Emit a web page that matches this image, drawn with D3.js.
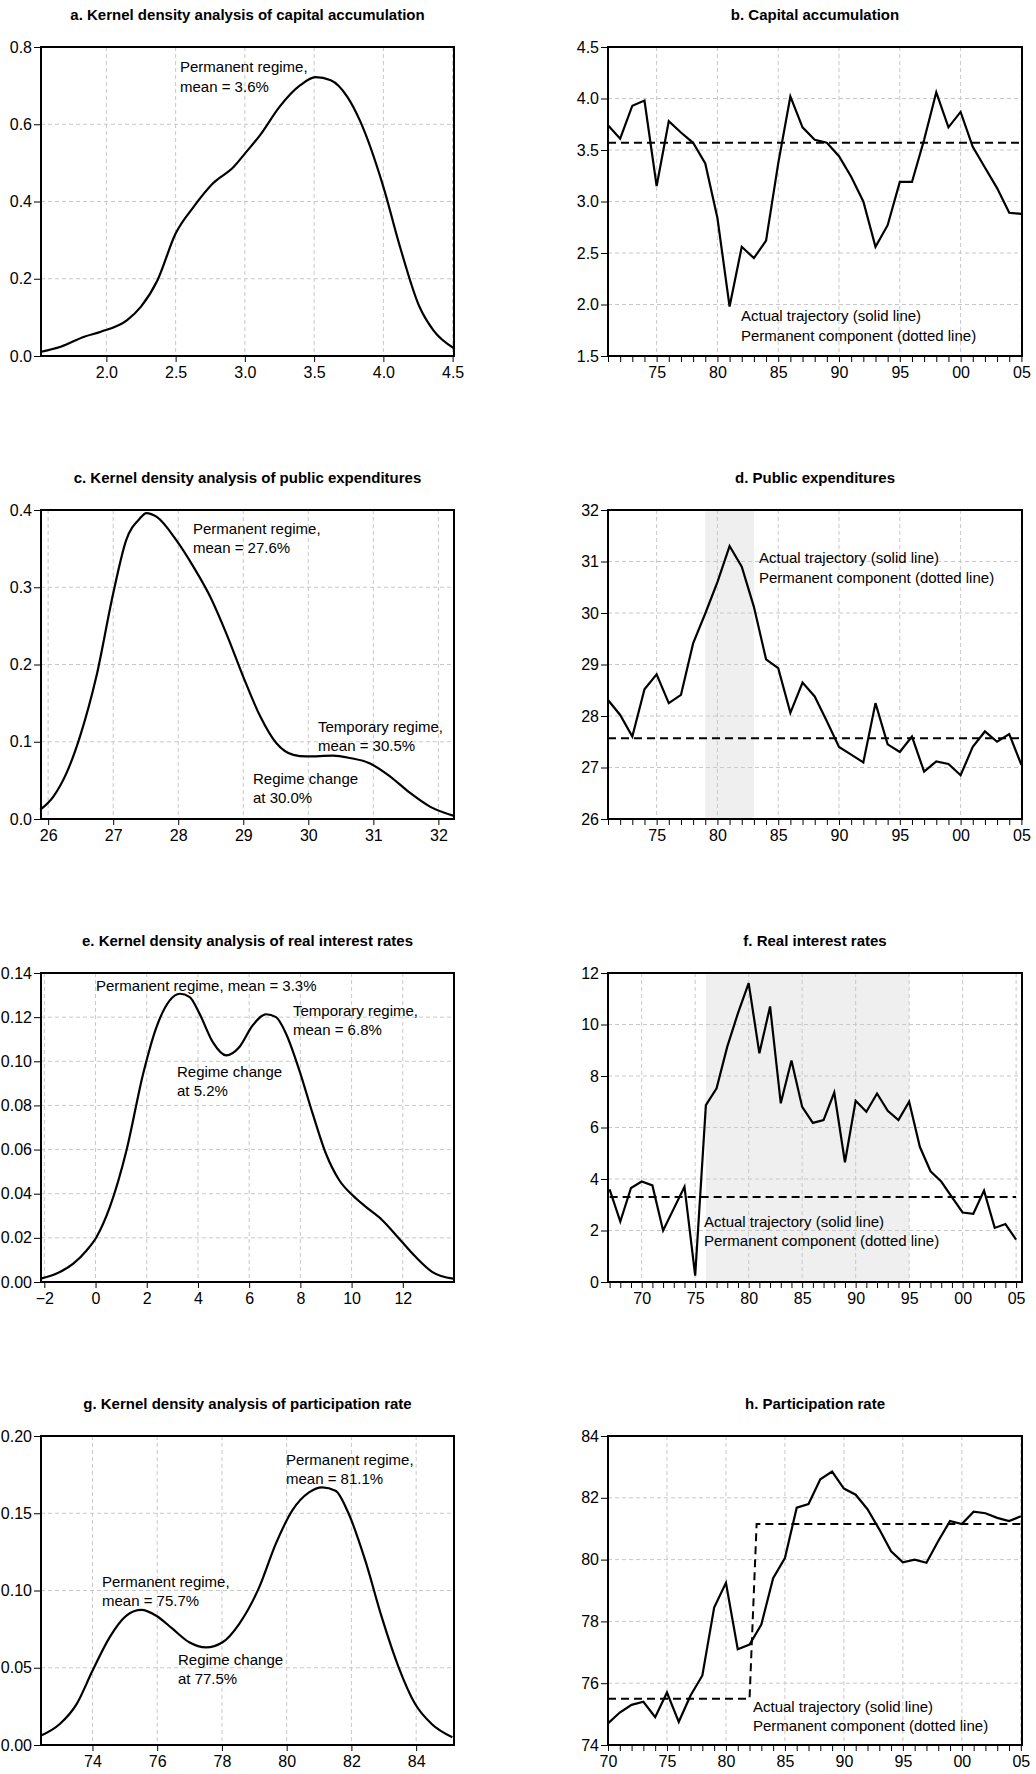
<!DOCTYPE html>
<html><head><meta charset="utf-8">
<script src="https://cdn.jsdelivr.net/npm/d3@7"></script>
<style>body{margin:0;background:#fff}svg{font-family:"Liberation Sans",Arial,sans-serif}</style>
</head><body><svg id="c" width="1036" height="1774"></svg>
<script>
// ---- Density data ----
const densA_x=[1.53,1.67,1.84,1.96,2.15,2.25,2.37,2.5,2.63,2.77,2.92,3.0,3.11,3.25,3.4,3.51,3.62,3.74,3.83,4.0,4.12,4.26,4.36,4.51];
const densA_y=[0.011,0.024,0.05,0.063,0.093,0.128,0.197,0.317,0.386,0.447,0.49,0.524,0.572,0.645,0.701,0.722,0.714,0.671,0.61,0.438,0.283,0.128,0.067,0.02];
const densC_x=[25.88,26.08,26.28,26.49,26.74,27.0,27.2,27.41,27.51,27.67,27.97,28.23,28.49,28.74,29.0,29.26,29.51,29.77,29.97,30.38,30.64,30.95,31.26,31.56,31.87,32.24];
const densC_y=[0.012,0.029,0.059,0.107,0.184,0.292,0.361,0.389,0.396,0.391,0.361,0.327,0.288,0.24,0.184,0.133,0.098,0.083,0.081,0.082,0.079,0.072,0.055,0.034,0.016,0.004];
const densE_x=[-2.14,-1.52,-0.87,-0.35,0.04,0.56,1.21,1.86,2.38,2.9,3.29,3.68,4.06,4.58,5.1,5.62,6.14,6.66,7.05,7.44,7.96,8.48,9.0,9.52,10.04,10.56,11.21,11.86,12.51,13.16,13.96];
const densE_y=[0.0015,0.0038,0.0083,0.0143,0.0204,0.034,0.0597,0.0944,0.1155,0.1276,0.1306,0.1291,0.1216,0.1087,0.1027,0.1065,0.1163,0.1213,0.12,0.1125,0.0959,0.0763,0.0581,0.0461,0.0393,0.034,0.0279,0.0196,0.0113,0.0045,0.0015];
const densG_x=[72.4,72.99,73.51,74.0,74.53,75.05,75.51,75.97,76.48,76.99,77.51,78.02,78.53,79.15,79.66,80.17,80.69,81.1,81.51,81.92,82.43,82.94,83.46,83.97,84.48,85.12];
const densG_y=[0.006,0.0136,0.0265,0.048,0.0697,0.0837,0.0874,0.0837,0.0751,0.0665,0.0632,0.0665,0.0783,0.102,0.13,0.1517,0.1635,0.1668,0.1646,0.1495,0.1193,0.0826,0.0503,0.0265,0.0136,0.005];
// ---- Time series data ----
const yearsB=d3.range(1971,2006);
const capital=[3.74,3.61,3.93,3.98,3.15,3.78,3.67,3.57,3.37,2.84,1.98,2.56,2.45,2.62,3.37,4.02,3.72,3.6,3.57,3.44,3.24,3.0,2.56,2.77,3.19,3.19,3.6,4.06,3.72,3.87,3.53,3.33,3.13,2.89,2.88];
const capitalPermX=[1971,2005];
const capitalPermY=[3.57,3.57];
const yearsD=d3.range(1971,2006);
const publicExp=[28.31,28.02,27.6,28.52,28.81,28.25,28.41,29.41,29.99,30.6,31.3,30.9,30.12,29.1,28.93,28.06,28.65,28.38,27.9,27.4,27.25,27.1,28.25,27.45,27.3,27.6,26.92,27.12,27.07,26.85,27.4,27.7,27.5,27.65,27.05];
const publicPermX=[1971,2005];
const publicPermY=[27.57,27.57];
const shadeD=[1979,1983];
const yearsF=d3.range(1967,2006);
const interest=[3.6,2.35,3.65,3.9,3.75,2.0,2.85,3.7,0.25,6.87,7.52,9.14,10.44,11.61,8.88,10.7,6.94,8.6,6.8,6.18,6.29,7.36,4.65,7.04,6.61,7.32,6.65,6.29,7.0,5.25,4.3,3.9,3.3,2.7,2.65,3.55,2.1,2.25,1.65];
const interestPermX=[1967,2005];
const interestPermY=[3.3,3.3];
const shadeF=[1976,1995];
const yearsH=d3.range(1970,2006);
const particip=[74.7,75.05,75.3,75.4,74.9,75.7,74.75,75.6,76.25,78.45,79.25,77.1,77.25,77.9,79.4,80.05,81.68,81.8,82.6,82.85,82.3,82.1,81.63,80.98,80.27,79.91,80.0,79.9,80.6,81.25,81.15,81.55,81.5,81.35,81.25,81.4];
const participPermX=[1970,1982,1982.6,2005];
const participPermY=[75.5,75.5,81.15,81.15];

const svg=d3.select("#c");
const colL=[41,454], colR=[608,1022];
const rowTop=[47,510,973,1436], H=309;

function frame(g,x0,x1,y0,title){
  g.append("text").attr("x",(x0+x1)/2).attr("y",y0-27).attr("text-anchor","middle")
   .attr("font-weight","bold").attr("font-size",15).text(title);
}
function grid(g,x,y,xt,yt,y0){
  const [X0,X1]=x.range(), Y1=y.range()[0];
  xt.forEach(v=>g.append("line").attr("x1",x(v)).attr("x2",x(v)).attr("y1",y0).attr("y2",Y1)
    .attr("stroke","#c8c8c8").attr("stroke-dasharray","4,3"));
  yt.forEach(v=>g.append("line").attr("x1",X0).attr("x2",X1).attr("y1",y(v)).attr("y2",y(v))
    .attr("stroke","#c8c8c8").attr("stroke-dasharray","4,3"));
}
function axes(g,x,y,xt,yt,xf,yf,minor,y0){
  const Y1=y.range()[0];
  g.append("g").attr("transform",`translate(0,${Y1})`)
   .call(d3.axisBottom(x).tickValues(xt).tickFormat(xf).tickSize(6).tickPadding(5))
   .call(a=>{a.select(".domain").remove();a.selectAll("text").attr("font-size",16).attr("fill","#000");});
  if(minor) g.append("g").attr("transform",`translate(0,${Y1})`)
   .call(d3.axisBottom(x).tickValues(minor).tickFormat("").tickSize(6))
   .call(a=>a.select(".domain").remove());
  g.append("g").attr("transform",`translate(${x.range()[0]},0)`)
   .call(d3.axisLeft(y).tickValues(yt).tickFormat(yf).tickSize(7).tickPadding(2))
   .call(a=>{a.select(".domain").remove();a.selectAll("text").attr("font-size",16).attr("fill","#000");});
  g.append("rect").attr("x",x.range()[0]).attr("y",y0).attr("width",x.range()[1]-x.range()[0])
   .attr("height",Y1-y0).attr("fill","none").attr("stroke","#000").attr("stroke-width",2);
}
function texts(g,items){
  items.forEach(([tx,ty,s])=>g.append("text").attr("x",tx).attr("y",ty).attr("font-size",15).text(s));
}
function density(row,title,xd,yd,xs,ys,xt,yt,xf,yf,notes){
  const y0=rowTop[row], g=svg.append("g");
  const x=d3.scaleLinear().domain(xd).range(colL);
  const y=d3.scaleLinear().domain(yd).range([y0+H,y0]);
  frame(g,colL[0],colL[1],y0,title);
  grid(g,x,y,xt,yt,y0);
  g.append("path").datum(d3.zip(xs,ys)).attr("fill","none").attr("stroke","#000").attr("stroke-width",2.2)
   .attr("d",d3.line().x(d=>x(d[0])).y(d=>y(d[1])).curve(d3.curveMonotoneX));
  axes(g,x,y,xt,yt,xf,yf,null,y0);
  texts(g,notes);
}
function series(row,title,xd,yd,yrs,vals,permX,permY,shade,yt,yf,labYears,notes){
  const y0=rowTop[row], g=svg.append("g");
  const x=d3.scaleLinear().domain(xd).range(colR);
  const y=d3.scaleLinear().domain(yd).range([y0+H,y0]);
  frame(g,colR[0],colR[1],y0,title);
  if(shade) g.append("rect").attr("x",x(shade[0])).attr("width",x(shade[1])-x(shade[0]))
    .attr("y",y0).attr("height",H).attr("fill","#efefef");
  grid(g,x,y,labYears,yt,y0);
  g.append("path").datum(d3.zip(permX,permY)).attr("fill","none").attr("stroke","#000").attr("stroke-width",2)
   .attr("stroke-dasharray","8,5").attr("d",d3.line().x(d=>x(d[0])).y(d=>y(d[1])));
  g.append("path").datum(d3.zip(yrs,vals)).attr("fill","none").attr("stroke","#000").attr("stroke-width",2.2)
   .attr("stroke-linejoin","miter").attr("d",d3.line().x(d=>x(d[0])).y(d=>y(d[1])));
  const minor=d3.range(Math.ceil(xd[0]),Math.floor(xd[1])+1).filter(v=>!labYears.includes(v));
  axes(g,x,y,labYears,yt,v=>String(v%100).padStart(2,"0"),yf,minor,y0);
  texts(g,notes);
}
const f1=d3.format(".1f"), f2=d3.format(".2f"), f0=d3.format("d");
density(0,"a. Kernel density analysis of capital accumulation",[1.528,4.51],[0,0.8],densA_x,densA_y,
  [2.0,2.5,3.0,3.5,4.0,4.5],[0,0.2,0.4,0.6,0.8],f1,f1,
  [[180,72,"Permanent regime,"],[180,92,"mean = 3.6%"]]);
density(1,"c. Kernel density analysis of public expenditures",[25.89,32.24],[0,0.4],densC_x,densC_y,
  [26,27,28,29,30,31,32],[0,0.1,0.2,0.3,0.4],f0,f1,
  [[193,534,"Permanent regime,"],[193,553,"mean = 27.6%"],[318,732,"Temporary regime,"],[318,751,"mean = 30.5%"],[253,784,"Regime change"],[253,803,"at 30.0%"]]);
density(2,"e. Kernel density analysis of real interest rates",[-2.13,14.0],[0,0.14],densE_x,densE_y,
  [-2,0,2,4,6,8,10,12],[0,0.02,0.04,0.06,0.08,0.10,0.12,0.14],f0,f2,
  [[96,991,"Permanent regime, mean = 3.3%"],[293,1016,"Temporary regime,"],[293,1035,"mean = 6.8%"],[177,1077,"Regime change"],[177,1096,"at 5.2%"]]);
density(3,"g. Kernel density analysis of participation rate",[72.41,85.17],[0,0.2],densG_x,densG_y,
  [74,76,78,80,82,84],[0,0.05,0.10,0.15,0.20],f0,f2,
  [[286,1465,"Permanent regime,"],[286,1484,"mean = 81.1%"],[102,1587,"Permanent regime,"],[102,1606,"mean = 75.7%"],[178,1665,"Regime change"],[178,1684,"at 77.5%"]]);

series(0,"b. Capital accumulation",[1971,2005.05],[1.5,4.5],yearsB,capital,capitalPermX,capitalPermY,null,
  [1.5,2.0,2.5,3.0,3.5,4.0,4.5],f1,[1975,1980,1985,1990,1995,2000,2005],
  [[741,321,"Actual trajectory (solid line)"],[741,341,"Permanent component (dotted line)"]]);
series(1,"d. Public expenditures",[1971,2005.05],[26,32],yearsD,publicExp,publicPermX,publicPermY,shadeD,
  [26,27,28,29,30,31,32],f0,[1975,1980,1985,1990,1995,2000,2005],
  [[759,563,"Actual trajectory (solid line)"],[759,583,"Permanent component (dotted line)"]]);
series(2,"f. Real interest rates",[1966.85,2005.55],[0,12],yearsF,interest,interestPermX,interestPermY,shadeF,
  [0,2,4,6,8,10,12],f0,[1970,1975,1980,1985,1990,1995,2000,2005],
  [[704,1227,"Actual trajectory (solid line)"],[704,1246,"Permanent component (dotted line)"]]);
series(3,"h. Participation rate",[1970,2005.1],[74,84],yearsH,particip,participPermX,participPermY,null,
  [74,76,78,80,82,84],f0,[1970,1975,1980,1985,1990,1995,2000,2005],
  [[753,1712,"Actual trajectory (solid line)"],[753,1731,"Permanent component (dotted line)"]]);
</script></body></html>
